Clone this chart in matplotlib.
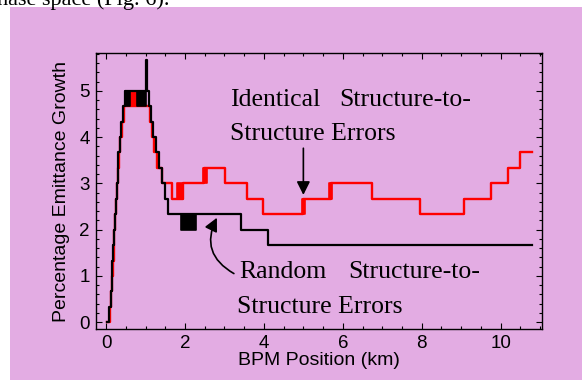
import matplotlib
matplotlib.use("Agg")
import matplotlib.pyplot as plt
from matplotlib.patches import Rectangle
from matplotlib.ticker import MultipleLocator

# Emittance growth (%) along the linac, stepwise as reported at each BPM
# Random structure-to-structure errors (black)
rand_x = [0.02, 0.08, 0.12, 0.14, 0.16, 0.18, 0.20, 0.22, 0.24, 0.27, 0.29, 0.31, 0.34, 0.38, 0.42,
          0.48, 1.02, 1.045, 1.08, 1.14, 1.20, 1.26, 1.33, 1.42, 1.50, 1.58, 3.41, 4.11, 10.80]
rand_y = [0.0, 0.33, 0.67, 1.0, 1.33, 1.67, 2.0, 2.33, 2.67, 3.0, 3.33, 3.67, 4.0, 4.33, 4.67,
          5.0, 5.67, 5.0, 4.67, 4.33, 4.0, 3.67, 3.33, 3.0, 2.67, 2.33, 2.0, 1.67, 1.67]

# Identical structure-to-structure errors (red)
ident_x = [0.02, 0.09, 0.13, 0.15, 0.17, 0.19, 0.21, 0.23, 0.25, 0.28, 0.30, 0.32, 0.35, 0.39, 0.44,
           1.12, 1.17, 1.22, 1.30, 1.42, 1.66, 1.95, 2.48, 3.01, 3.57, 3.97, 5.00, 5.71, 6.75,
           7.95, 9.06, 9.76, 10.18, 10.48, 10.79]
ident_y = [0.0, 0.33, 0.67, 1.0, 1.33, 1.67, 2.0, 2.33, 2.67, 3.0, 3.33, 3.67, 4.0, 4.33, 4.67,
           4.33, 4.0, 3.67, 3.33, 3.0, 2.67, 3.0, 3.33, 3.0, 2.67, 2.33, 2.67, 3.0, 2.67,
           2.33, 2.67, 3.0, 3.33, 3.67, 3.67]

# stretches where the value flickers between two neighbouring levels: (x0, x1, low, high)
rand_flicker = [(0.48, 0.60, 4.67, 5.0), (0.78, 1.01, 4.67, 5.0), (1.90, 2.29, 2.0, 2.33)]
ident_flicker = [(0.60, 0.78, 4.67, 5.0), (1.80, 1.95, 2.67, 3.0), (2.46, 2.56, 3.0, 3.33),
                 (4.96, 5.03, 2.33, 2.67), (5.66, 5.73, 2.67, 3.0)]

x_ticks = [0, 2, 4, 6, 8, 10]
y_ticks = [0, 1, 2, 3, 4, 5]

LAVENDER = "#e3ace3"
SANS = "Liberation Sans"
SERIF = "Liberation Serif"

fig = plt.figure(figsize=(5.82, 3.88), dpi=100)
fig.patch.set_facecolor("white")
fig.patches.append(Rectangle((10 / 582, 8 / 388), 572 / 582, 373 / 388,
                             transform=fig.transFigure, facecolor=LAVENDER,
                             edgecolor="none", zorder=-10))

# running text of the page above the figure
fig.text(-3 / 582, 1 - 5 / 388, "hase space (Fig. 6).", family=SERIF, fontsize=16,
         ha="left", va="baseline")

ax = fig.add_axes([95.5 / 582, 59 / 388, 446.5 / 582, 276 / 388])
ax.set_facecolor(LAVENDER)

ax.step(ident_x, ident_y, where="post", color="red", lw=1.7, zorder=2)
for x0, x1, lo, hi in ident_flicker:
    ax.fill_between([x0, x1], lo, hi, color="red", lw=1.2, zorder=2)

ax.step(rand_x, rand_y, where="post", color="black", lw=1.6, zorder=3)
for x0, x1, lo, hi in rand_flicker:
    ax.fill_between([x0, x1], lo, hi, color="black", lw=1.2, zorder=3)

ax.set_xlim(-0.27, 11.05)
ax.set_ylim(-0.15, 5.82)
ax.set_xticks(x_ticks)
ax.set_yticks(y_ticks)
ax.xaxis.set_minor_locator(MultipleLocator(0.5))
ax.yaxis.set_minor_locator(MultipleLocator(0.2))
ax.tick_params(which="both", direction="in", top=True, right=True, width=0.8,
               labelsize=13.5, pad=4)
ax.tick_params(which="major", length=4)
ax.tick_params(which="minor", length=2)
for lab in ax.get_xticklabels() + ax.get_yticklabels():
    lab.set_family(SANS)
for sp in ax.spines.values():
    sp.set_linewidth(1.0)

ax.set_xlabel("BPM Position (km)", family=SANS, fontsize=14, labelpad=0)
ax.set_ylabel("Percentage Emittance Growth", family=SANS, fontsize=14, labelpad=7)

# annotations (first lines are justified, so the words are placed separately)
note = dict(family=SERIF, fontsize=18.5, va="center")
ax.text(3.14, 4.80, "Identical", **note)
ax.text(5.90, 4.80, "Structure-to-", **note)
ax.text(3.14, 4.06, "Structure Errors", **note)
ax.annotate("", xy=(5.0, 2.69), xytext=(5.0, 3.82),
            arrowprops=dict(arrowstyle="-|>", color="black", lw=1.2, mutation_scale=20))

ax.text(3.38, 1.08, "Random", **note)
ax.text(6.15, 1.08, "Structure-to-", **note)
ax.text(3.33, 0.33, "Structure Errors", **note)
ax.annotate("", xy=(2.84, 2.31), xytext=(3.30, 1.02),
            arrowprops=dict(arrowstyle="-|>", color="black", lw=1.2, mutation_scale=20,
                            connectionstyle="arc3,rad=-0.5"))

fig.savefig("out.png", dpi=100)
